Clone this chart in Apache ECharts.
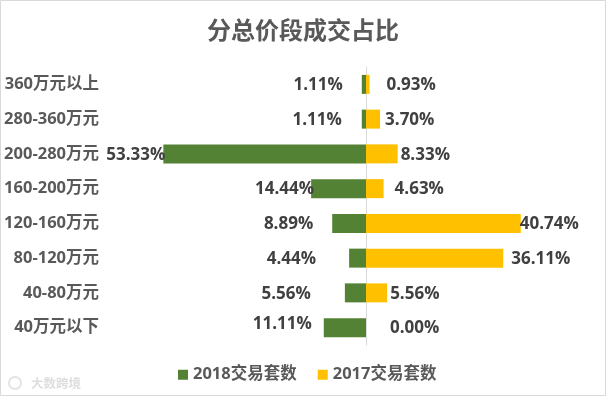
<!DOCTYPE html>
<html>
<head>
<meta charset="utf-8">
<script src="https://cdn.jsdelivr.net/npm/echarts@6/dist/echarts.min.js"></script>
<style>
html, body { margin: 0; padding: 0; background: #fff; }
#main { width: 606px; height: 396px; box-sizing: border-box; }
</style>
</head>
<body>
<div id="main"></div>
<script>
var categories = ['360万元以上', '280-360万元', '200-280万元', '160-200万元', '120-160万元', '80-120万元', '40-80万元', '40万元以下'];
var values2018 = [1.11, 1.11, 53.33, 14.44, 8.89, 4.44, 5.56, 11.11];
var values2017 = [0.93, 3.70, 8.33, 4.63, 40.74, 36.11, 5.56, 0.00];
// hand placed labels in the original, gap between bar end and label
var gaps2018 = [19, 20, -2, -3, 19, 33, 34, 12];
var gaps2017 = [17, 5, 3, 11, -1, 8, 3, 24];

var fontName = '"Open Sans", "Noto Sans CJK SC", sans-serif';

function labelText(p) {
    return Math.abs(p.value).toFixed(2) + '%';
}

var mychart = echarts.init(document.getElementById('main'));
var option = {
    backgroundColor: '#fff',
    animation: false,
    title: {
        text: '分总价段成交占比',
        left: 'center',
        top: 15,
        textStyle: { color: '#595959', fontSize: 24, fontWeight: 'bold', fontFamily: fontName }
    },
    legend: {
        bottom: 8,
        left: 173,
        itemWidth: 10,
        itemHeight: 10,
        itemGap: 21,
        icon: 'rect',
        textStyle: { color: '#595959', fontSize: 16.5, fontWeight: 'bold', fontFamily: fontName }
    },
    grid: { left: 100, right: 50, top: 67, bottom: 51 },
    xAxis: {
        type: 'value',
        min: -70,
        max: 50,
        show: false
    },
    yAxis: {
        type: 'category',
        inverse: true,
        data: categories,
        axisTick: { show: false },
        axisLine: { onZero: true, lineStyle: { color: '#d9d9d9', width: 1 } },
        axisLabel: {
            margin: 1,
            padding: [3, 0, 0, 0],
            color: '#595959',
            fontSize: 16.5,
            fontWeight: 'bold',
            fontFamily: fontName
        }
    },
    series: [
        {
            name: '2018交易套数',
            type: 'bar',
            barGap: '-100%',
            barWidth: 19,
            itemStyle: { color: '#548235' },
            data: values2018.map(function (v, i) {
                return {
                    value: -v,
                    label: { offset: [-gaps2018[i], i === 7 ? -3 : 1] }
                };
            }),
            label: {
                show: true,
                position: 'left',
                distance: 0,
                formatter: labelText,
                color: '#404040',
                fontSize: 17,
                fontWeight: 'bold',
                fontFamily: fontName
            }
        },
        {
            name: '2017交易套数',
            type: 'bar',
            barGap: '-100%',
            barWidth: 19,
            itemStyle: { color: '#ffc000' },
            data: values2017.map(function (v, i) {
                return {
                    value: v,
                    label: { offset: [gaps2017[i], 1] }
                };
            }),
            label: {
                show: true,
                position: 'right',
                distance: 0,
                formatter: labelText,
                color: '#404040',
                fontSize: 17,
                fontWeight: 'bold',
                fontFamily: fontName
            }
        }
    ],
    graphic: [
        {
            type: 'rect',
            silent: true,
            shape: { x: 0.5, y: 0.5, width: 605, height: 395 },
            style: { fill: 'none', stroke: '#d9d9d9', lineWidth: 1 }
        },
        {
            type: 'circle',
            silent: true,
            shape: { cx: 15, cy: 383, r: 6 },
            style: { fill: 'none', stroke: '#e4e4e4', lineWidth: 2 }
        },
        {
            type: 'text',
            silent: true,
            left: 31,
            top: 378,
            style: { text: '大数跨境', fill: '#dedede', fontSize: 12.5, fontWeight: 'bold', fontFamily: fontName }
        }
    ]
};
mychart.setOption(option);
</script>
</body>
</html>
